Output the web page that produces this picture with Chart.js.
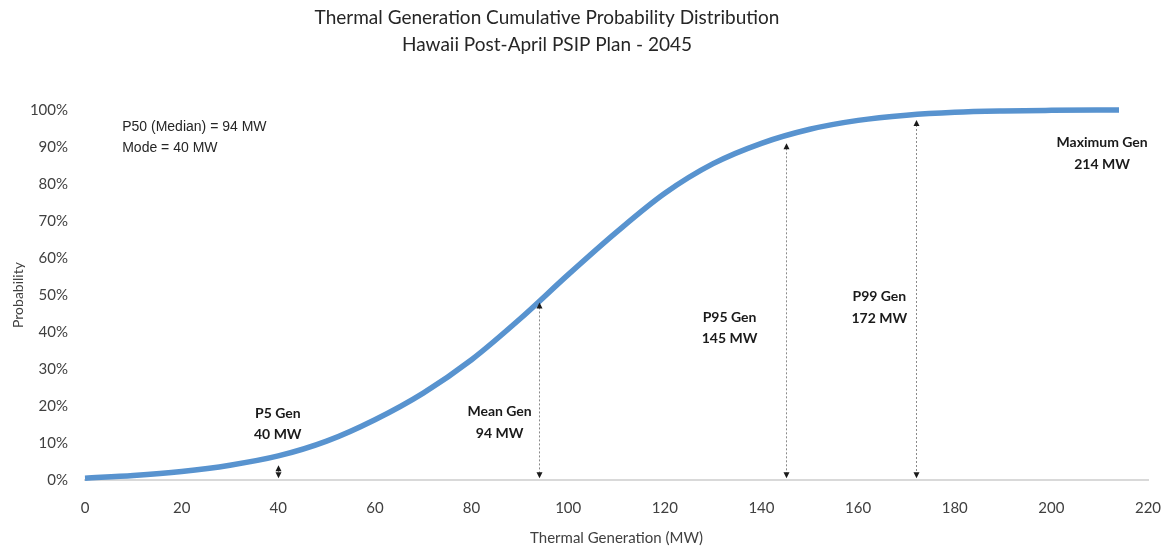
<!DOCTYPE html>
<html>
<head>
<meta charset="utf-8">
<script src="https://cdn.jsdelivr.net/npm/chart.js@4"></script>
<style>
  html, body { margin: 0; padding: 0; background: #ffffff; }
  #c { display: block; }
</style>
</head>
<body>
<canvas id="c" width="1170" height="553"></canvas>
<script>
// Cumulative probability of thermal generation (MW -> %)
const genMW   = [0, 10, 20, 30, 40, 50, 60, 70, 80, 90, 100, 110, 120, 130, 140, 150, 160, 170, 180, 190, 200, 214];
const cumProb = [0.5, 1.2, 2.3, 4.0, 6.5, 10.5, 16.3, 23.5, 32.5, 43.5, 55.5, 67, 77.5, 85.5, 91, 94.8, 97.2, 98.6, 99.4, 99.75, 99.9, 100];

// Axis ranges and tick steps
const xRange = [0, 220];
const xStep = 20;
const yRange = [0, 100];
const yStep = 10;

// Marked generation levels
const markerNames = ['P5 Gen', 'Mean Gen', 'P95 Gen', 'P99 Gen'];
const markerMW    = [40, 94, 145, 172];
const markerTop   = [4, 48, 91, 97.3];   // % where each arrow stops under the curve
const maxGenMW = 214;
const medianMW = 94;
const modeMW = 40;

const titleLines = ['Thermal Generation Cumulative Probability Distribution', 'Hawaii Post-April PSIP Plan - 2045'];

// Where the text blocks sit (in axis units)
const labelAt = {
  markers: [ { x: 39.9, y: 18.1 }, { x: 85.8, y: 18.4 }, { x: 133.4, y: 44.0 }, { x: 164.4, y: 49.5 } ],
  maxGen:  { x: 210.5, y: 91.1 },
  stats:   { x: 7.7,   y: 95.4 }
};

const points = genMW.map((v, i) => ({ x: v, y: cumProb[i] }));

function arrowHead(ctx, x, y, dir) {
  // dir = -1 points up, +1 points down; (x, y) is the tip
  ctx.beginPath();
  ctx.moveTo(x, y);
  ctx.lineTo(x - 3, y - dir * 6);
  ctx.lineTo(x + 3, y - dir * 6);
  ctx.closePath();
  ctx.fill();
}

const markerPlugin = {
  id: 'markers',
  afterDatasetsDraw(chart) {
    const { ctx, scales: { x, y } } = chart;
    ctx.save();

    // two-line heading
    ctx.fillStyle = '#262626';
    ctx.font = '19px Lato';
    ctx.textAlign = 'center';
    ctx.textBaseline = 'middle';
    ctx.fillText(titleLines[0], 547, 18);
    ctx.fillText(titleLines[1], 547, 45);

    markerMW.forEach((mw, i) => {
      const px = Math.round(x.getPixelForValue(mw)) + 0.5;
      const top = y.getPixelForValue(markerTop[i]);
      const bot = y.getPixelForValue(0.5);
      ctx.strokeStyle = '#8a8a8a';
      ctx.lineWidth = 1;
      ctx.setLineDash([2, 2]);
      ctx.beginPath();
      ctx.moveTo(px, top + 5);
      ctx.lineTo(px, bot - 5);
      ctx.stroke();
      ctx.setLineDash([]);
      ctx.fillStyle = '#1a1a1a';
      arrowHead(ctx, px, top, -1);
      arrowHead(ctx, px, bot, 1);
    });

    ctx.fillStyle = '#1a1a1a';
    ctx.font = 'bold 14px Lato';
    ctx.textAlign = 'center';
    ctx.textBaseline = 'middle';
    markerNames.forEach((name, i) => {
      const p = labelAt.markers[i];
      const lx = x.getPixelForValue(p.x);
      const ly = y.getPixelForValue(p.y);
      ctx.fillText(name, lx, ly);
      ctx.fillText(markerMW[i] + ' MW', lx, ly + 21.5);
    });
    const mx = x.getPixelForValue(labelAt.maxGen.x);
    const my = y.getPixelForValue(labelAt.maxGen.y);
    ctx.fillText('Maximum Gen', mx, my);
    ctx.fillText(maxGenMW + ' MW', mx, my + 22);

    ctx.fillStyle = '#262626';
    ctx.font = '14px "Liberation Sans"';
    ctx.textAlign = 'left';
    const sx = x.getPixelForValue(labelAt.stats.x);
    const sy = y.getPixelForValue(labelAt.stats.y);
    ctx.fillText('P50 (Median) = ' + medianMW + ' MW', sx, sy);
    ctx.fillText('Mode = ' + modeMW + ' MW', sx, sy + 21);
    ctx.restore();
  }
};

new Chart(document.getElementById('c'), {
  type: 'line',
  data: {
    datasets: [{
      data: points,
      borderColor: '#5893cf',
      borderWidth: 5.5,
      pointRadius: 0,
      fill: false,
      cubicInterpolationMode: 'monotone',
      clip: false
    }]
  },
  options: {
    responsive: false,
    animation: false,
    devicePixelRatio: 1,
    layout: { padding: { left: 0, right: 22, top: 110, bottom: 0 } },
    plugins: {
      legend: { display: false },
      tooltip: { enabled: false },
      title: { display: false }
    },
    scales: {
      x: {
        type: 'linear',
        min: xRange[0],
        max: xRange[1],
        ticks: { stepSize: xStep, color: '#404040', font: { family: 'Lato', size: 15 }, padding: 19, maxRotation: 0 },
        grid: { display: false, drawTicks: false },
        border: { display: true, color: '#d9d9d9', width: 2 },
        title: { display: true, text: 'Thermal Generation (MW)', color: '#404040', font: { family: 'Lato', size: 15 }, padding: { top: 0, bottom: 6 } },
        afterFit(s) { s.height = 73; s.paddingLeft = 0; s.paddingRight = 0; }
      },
      y: {
        min: yRange[0],
        max: yRange[1],
        ticks: { stepSize: yStep, color: '#404040', font: { family: 'Lato', size: 15 }, padding: 17, callback: v => v + '%' },
        grid: { display: false, drawTicks: false },
        border: { display: false },
        title: { display: true, text: 'Probability', color: '#404040', font: { family: 'Lato', size: 14 }, padding: { top: 10, bottom: 0 } },
        afterFit(s) { s.width = 85; }
      }
    }
  },
  plugins: [markerPlugin]
});
</script>
</body>
</html>
